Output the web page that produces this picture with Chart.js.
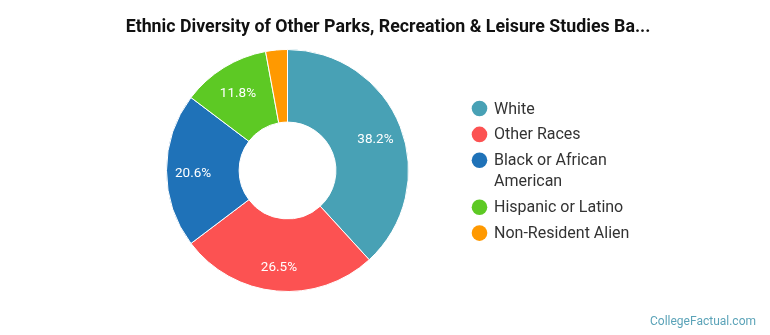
<!DOCTYPE html>
<html><head><meta charset="utf-8">
<script src="https://cdn.jsdelivr.net/npm/chart.js@4/dist/chart.umd.min.js"></script>
<style>html,body{margin:0;padding:0;background:#fff;}#wrap{width:770px;height:335px;position:relative;}</style>
</head><body><div id="wrap"><canvas id="c" width="770" height="335"></canvas></div>
<script>
const titleText = "Ethnic Diversity of Other Parks, Recreation & Leisure Studies Ba...";
const categories = ["White", "Other Races", "Black or African American", "Hispanic or Latino", "Non-Resident Alien"];
const legendLines = [["White"], ["Other Races"], ["Black or African", "American"], ["Hispanic or Latino"], ["Non-Resident Alien"]];
const values = [38.2, 26.5, 20.6, 11.8, 2.9];
const colors = ["#48A1B5", "#FC5252", "#1F72B8", "#5DC924", "#FF9900"];
const watermark = "CollegeFactual.com";

const F = "Roboto, 'Open Sans', sans-serif";
const overlay = {
  id: 'overlay',
  afterDraw(chart) {
    const ctx = chart.ctx;
    ctx.save();
    // title
    ctx.fillStyle = "#111";
    ctx.font = "bold 17.8px " + F;
    ctx.textAlign = "center"; ctx.textBaseline = "middle";
    ctx.fillText(titleText, 388, 28);
    // slice labels
    const meta = chart.getDatasetMeta(0);
    ctx.font = "13.5px " + F;
    ctx.fillStyle = "#fff";
    meta.data.forEach((arc, i) => {
      if (values[i] < 5) return;
      const p = arc.getProps(['startAngle','endAngle','innerRadius','outerRadius','x','y'], true);
      const a = (p.startAngle + p.endAngle) / 2;
      const r = p.outerRadius * 0.78;
      ctx.fillText(values[i].toFixed(1) + "%", p.x + Math.cos(a) * r, p.y + Math.sin(a) * r + 3);
    });
    // legend
    ctx.textAlign = "left";
    ctx.font = "16px " + F;
    let y = 108.5;
    legendLines.forEach((lines, i) => {
      ctx.fillStyle = colors[i];
      ctx.beginPath(); ctx.arc(479.5, y, 7.8, 0, Math.PI * 2); ctx.fill();
      ctx.fillStyle = "#333";
      lines.forEach((t, j) => { ctx.fillText(t, 494, y + 1 + j * 21); });
      y += 25.9 + (lines.length - 1) * 21;
    });
    // watermark
    ctx.fillStyle = "#5BA3B8";
    ctx.font = "12px " + F;
    ctx.textAlign = "right";
    ctx.fillText(watermark, 756, 322);
    ctx.restore();
  }
};

new Chart(document.getElementById('c'), {
  type: 'doughnut',
  data: { labels: categories, datasets: [{ data: values, backgroundColor: colors, borderColor: "#fff", borderWidth: 1 }] },
  options: {
    responsive: false, animation: false, cutout: '40%',
    layout: { padding: { left: 166, right: 361, top: 48.5, bottom: 42.5 } },
    plugins: { legend: { display: false }, title: { display: false }, tooltip: { enabled: false } }
  },
  plugins: [overlay]
});
</script></body></html>
